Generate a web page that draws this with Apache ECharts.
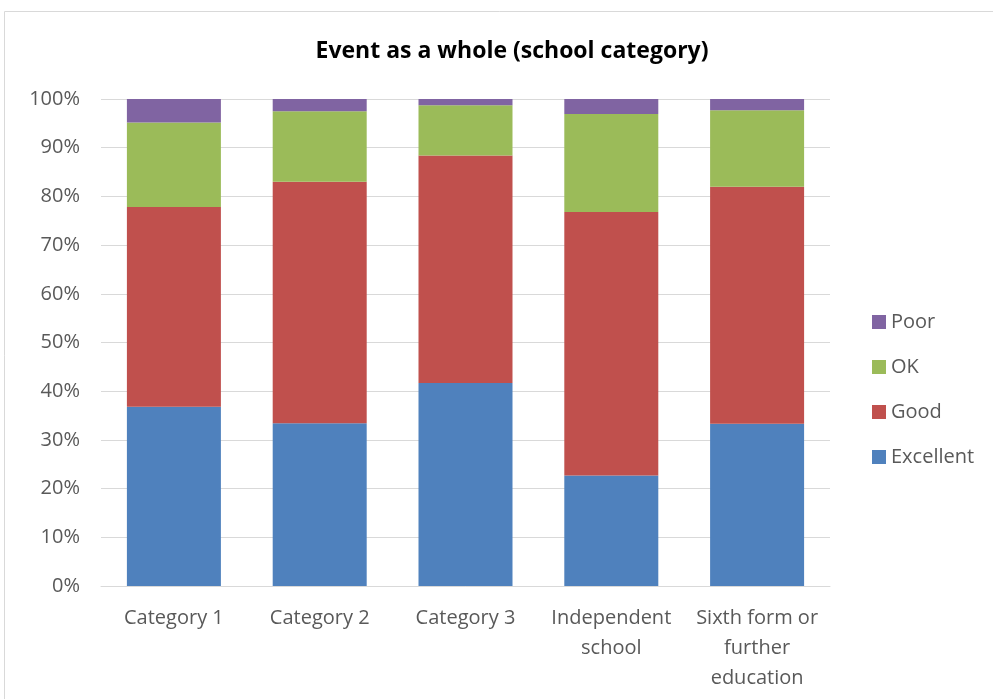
<!DOCTYPE html>
<html>
<head>
<meta charset="utf-8">
<script src="https://cdn.jsdelivr.net/npm/echarts@6/dist/echarts.min.js"></script>
<style>
  html, body { margin: 0; padding: 0; background: #fff; }
  #chart { width: 993px; height: 699px; }
</style>
</head>
<body>
<div id="chart"></div>
<script>
// School categories along the x axis
const categories = ['Category 1', 'Category 2', 'Category 3', 'Independent\nschool', 'Sixth form or\nfurther\neducation'];

// Share of responses per rating (percent)
const excellent = [36.8, 33.4, 41.7, 22.7, 33.3];
const good      = [41.0, 49.6, 46.7, 54.1, 48.7];
const ok        = [17.4, 14.5, 10.3, 20.1, 15.7];
const poor      = [4.8, 2.5, 1.3, 3.1, 2.3];

const yTicks = [0, 10, 20, 30, 40, 50, 60, 70, 80, 90, 100];

const font = "'Open Sans', 'Liberation Sans', sans-serif";
const chart = echarts.init(document.getElementById('chart'));

function bar(name, data, color) {
  return {
    name: name,
    type: 'bar',
    stack: 'total',
    data: data,
    barWidth: 94,
    itemStyle: { color: color },
    emphasis: { disabled: true }
  };
}

chart.setOption({
  animation: false,
  title: {
    text: 'Event as a whole (school category)',
    left: 507,
    textAlign: 'center',
    top: 35,
    textStyle: { fontFamily: font, fontWeight: 'bold', fontSize: 23, color: '#000' }
  },
  graphic: [{
    type: 'rect',
    shape: { x: 4.5, y: 11.5, width: 1000, height: 700 },
    style: { fill: 'none', stroke: '#d9d9d9', lineWidth: 1 },
    silent: true
  }],
  legend: {
    orient: 'vertical',
    left: 867,
    top: 305,
    itemGap: 21,
    itemWidth: 14,
    itemHeight: 14,
    icon: 'rect',
    data: ['Poor', 'OK', 'Good', 'Excellent'],
    textStyle: { fontFamily: font, fontSize: 20, lineHeight: 24, color: '#595959' }
  },
  grid: { left: 101, right: 163, top: 99, bottom: 113, containLabel: false },
  xAxis: {
    type: 'category',
    data: categories,
    axisTick: { show: false },
    axisLine: { lineStyle: { color: '#d9d9d9', width: 1 } },
    axisLabel: { fontFamily: font, fontSize: 20, color: '#595959', margin: 17, lineHeight: 30, interval: 0 }
  },
  yAxis: {
    type: 'value',
    min: 0,
    max: 100,
    interval: 10,
    axisLine: { show: false },
    axisTick: { show: false },
    splitLine: { lineStyle: { color: '#d9d9d9', width: 1 } },
    axisLabel: {
      fontFamily: font, fontSize: 20, color: '#595959', margin: 21,
      formatter: v => (yTicks.includes(v) ? v + '%' : '')
    }
  },
  series: [
    bar('Excellent', excellent, '#4f81bd'),
    bar('Good', good, '#c0504d'),
    bar('OK', ok, '#9bbb59'),
    bar('Poor', poor, '#8064a2')
  ]
});
</script>
</body>
</html>
